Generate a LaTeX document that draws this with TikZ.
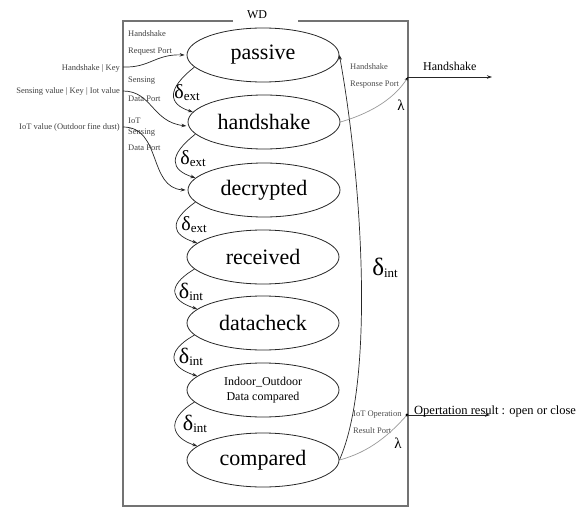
\documentclass[tikz,border=0pt]{standalone}
\usepackage{fontspec}
\setmainfont{Liberation Serif}
\usetikzlibrary{arrows.meta,shapes.geometric}

\tikzset{
  state/.style={draw=black!85, line width=0.8pt, ellipse, minimum width=152pt,
    minimum height=54pt, inner sep=0pt, font=\fontsize{22}{24}\selectfont},
  trans/.style={draw=black!85, line width=0.7pt, -{Stealth[length=5pt,width=3.5pt]}},
  outcurve/.style={draw=black!40, line width=0.7pt},
  portlbl/.style={anchor=west, inner sep=0pt, font=\fontsize{8.5}{9}\selectfont, text=black!75},
  inlbl/.style={anchor=east, inner sep=0pt, font=\fontsize{8.5}{9}\selectfont, text=black!75},
  dlbl/.style={inner sep=0pt},
}
\newcommand{\dext}[1]{{\fontsize{#1}{#1}\selectfont δ}\raisebox{-0.45ex}{\fontsize{13}{13}\selectfont ext}}
\newcommand{\dint}[1]{{\fontsize{#1}{#1}\selectfont δ}\raisebox{-0.45ex}{\fontsize{13}{13}\selectfont int}}

\begin{document}
\begin{tikzpicture}[x=1pt, y=-1pt]
  \useasboundingbox (0,0) rectangle (583,508);

  % model frame with its title
  \draw[black!55, line width=1.3pt] (233,21) -- (123,21) -- (123,506) -- (408,506) -- (408,21) -- (298,21);
  \node[font=\fontsize{12}{12}\selectfont] (wd) at (257,15) {WD};

  % states
  \node[state] (passive) at (263,55) {passive};
  \node[state] (hs) at (264,122) {handshake};
  \node[state] (dec) at (264,190) {decrypted};
  \node[state] (rec) at (263,257) {received};
  \node[state] (chk) at (263,323) {datacheck};
  \node[state, font=\fontsize{12}{14.5}\selectfont, align=center] (io) at (263,390) {Indoor\_Outdoor\\Data compared};
  \node[state] (cmp) at (263,460) {compared};

  % input ports
  \node[portlbl] (p1a) at (128,34) {Handshake};
  \node[portlbl] (p1b) at (128,52) {Request Port};
  \node[portlbl] (p2a) at (128,81) {Sensing};
  \node[portlbl] (p2b) at (128,99) {Data Port};
  \node[portlbl] (p3a) at (128,121) {IoT};
  \node[portlbl] (p3b) at (128,133) {Sensing};
  \node[portlbl] (p3c) at (128,148) {Data Port};

  \coordinate (in1) at (123,67);
  \coordinate (in2) at (123,91);
  \coordinate (in3) at (123,127);
  \node[inlbl] (i1) at (120,68) {Handshake | Key};
  \node[inlbl] (i2) at (120,91) {Sensing value | Key | Iot value};
  \node[inlbl] (i3) at (120,127) {IoT value (Outdoor fine dust)};

  \draw[trans] (in1) .. controls (150,68) and (155,54) .. ([xshift=-2pt]passive.west);
  \draw[trans] (in2) .. controls (152,91) and (152,122) .. ([xshift=-2pt]hs.183);
  \draw[trans] (in3) .. controls (162,127) and (148,188) .. ([xshift=-2pt]dec.west);

  % transitions between states
  \draw[trans] (passive.190) .. controls +(-28,22) and +(-25,-8) .. (hs.172);
  \draw[trans] (hs.190) .. controls +(-28,22) and +(-25,-8) .. (dec.170);
  \draw[trans] (dec.190) .. controls +(-28,20) and +(-25,-8) .. (rec.168);
  \draw[trans] (rec.190) .. controls +(-30,18) and +(-25,-8) .. (chk.168);
  \draw[trans] (chk.190) .. controls +(-32,18) and +(-25,-8) .. (io.168);
  \draw[trans] (io.190) .. controls +(-30,18) and +(-25,-8) .. (cmp.168);

  \node[dlbl] (d1) at (187,93) {\dext{20}};
  \node[dlbl] (d2) at (193,159) {\dext{20}};
  \node[dlbl] (d3) at (194,225) {\dext{20}};
  \node[dlbl] (d4) at (191,292) {\dint{22}};
  \node[dlbl] (d5) at (191,357) {\dint{22}};
  \node[dlbl] (d6) at (195,424) {\dint{22}};

  % internal transition back to passive
  \draw[trans] (cmp.east) .. controls (375,380) and (362,180) .. (passive.east);
  \node[dlbl] (d7) at (385,268) {\dint{25}};

  % output ports
  \coordinate (o1) at (408,77);
  \coordinate (o2) at (407,415);
  \node[portlbl, text=black!70] (r1a) at (350,67) {Handshake};
  \node[portlbl, text=black!70] (r1b) at (350,85) {Response Port};
  \node[portlbl, text=black!70] (r2a) at (353,415) {IoT Operation};
  \node[portlbl, text=black!70] (r2b) at (353,431) {Result Port};

  \draw[outcurve, -{Stealth[length=4pt,width=3pt,black]}] (hs.east) .. controls (375,112) and (396,96) .. (o1);
  \draw[outcurve] (cmp.east) .. controls (370,452) and (390,434) .. (o2);
  \fill[black] (o2) circle (1.6pt);

  \node[font=\fontsize{15}{15}\selectfont] (l1) at (401,105) {λ};
  \node[font=\fontsize{15}{15}\selectfont] (l2) at (398,443) {λ};

  \coordinate (e1) at (492,77);
  \coordinate (e2) at (490,415);
  \draw[black!85, line width=0.7pt, -{Stealth[length=5pt,width=3.5pt]}] (o1) -- (e1);
  \draw[black!85, line width=0.7pt, -{Stealth[length=5pt,width=3.5pt]}] (o2) -- (e2);
  \node[anchor=south west, inner sep=0pt, font=\fontsize{12}{12}\selectfont] (t1) at (423,71) {Handshake};
  \node[anchor=south west, inner sep=0pt, font=\fontsize{12.5}{12.5}\selectfont] (t2) at (414,417) {Opertation result : open or close};
\end{tikzpicture}
\end{document}
